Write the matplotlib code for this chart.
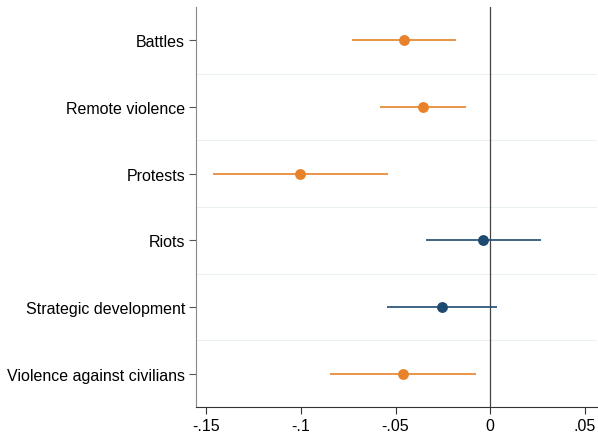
import numpy as np
import matplotlib.pyplot as plt

plt.rcParams['font.family'] = ['Liberation Sans', 'DejaVu Sans']

categories = ['Battles', 'Remote violence', 'Protests', 'Riots',
              'Strategic development', 'Violence against civilians']
coef = [-0.0455, -0.0357, -0.1004, -0.0037, -0.0255, -0.0460]
ci_low = [-0.0728, -0.0582, -0.1465, -0.0341, -0.0546, -0.0844]
ci_high = [-0.0183, -0.0130, -0.0541, 0.0267, 0.0035, -0.0075]
significant = [True, True, True, False, False, True]

orange = '#E8822A'
navy = '#1F4A70'

fig = plt.figure(figsize=(5.98, 4.35), dpi=100)
ax = fig.add_axes([0.328, 0.062, 0.67, 0.92])

ypos = np.arange(1, len(categories) + 1)
for y, c, lo, hi, sig in zip(ypos, coef, ci_low, ci_high, significant):
    col = orange if sig else navy
    ax.plot([lo, hi], [y, y], color=col, lw=1.2, solid_capstyle='butt', zorder=3)
    ax.plot(c, y, 'o', color=col, ms=6.8, zorder=4)

for g in np.arange(1.5, len(categories), 1):
    ax.axhline(g, color='#eaf0f2', lw=0.8, zorder=1)
ax.axvline(0, color='#444444', lw=0.9, zorder=2)

ax.set_xlim(-0.1553, 0.0563)
ax.set_ylim(6.5, 0.5)
ax.set_yticks(ypos)
ax.set_yticklabels(categories, fontsize=11.5)
ax.set_xticks([-0.15, -0.1, -0.05, 0, 0.05])
ax.set_xticklabels(['-.15', '-.1', '-.05', '0', '.05'], fontsize=11.5)

ax.spines['top'].set_visible(False)
ax.spines['right'].set_visible(False)
ax.spines['left'].set_color('#888888')
ax.spines['bottom'].set_color('#333333')
ax.tick_params(axis='y', length=5, color='#555555', pad=3)
ax.tick_params(axis='x', length=5, color='#333333', pad=3)

fig.savefig('out.png', dpi=100)
